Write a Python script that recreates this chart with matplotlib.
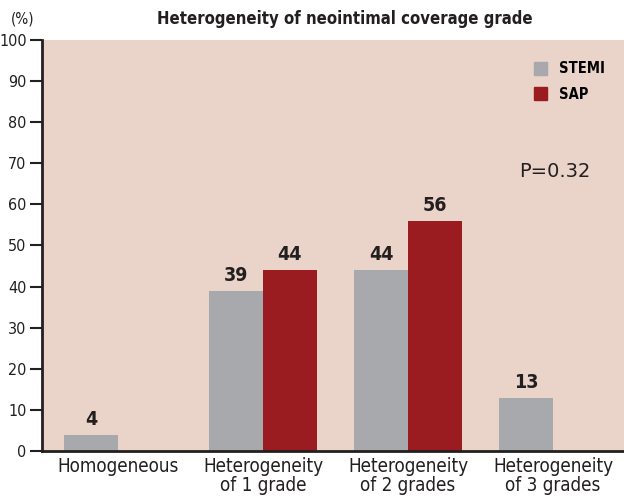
import matplotlib
matplotlib.use("Agg")
import matplotlib.pyplot as plt
import numpy as np

categories = ["Homogeneous", "Heterogeneity\nof 1 grade", "Heterogeneity\nof 2 grades", "Heterogeneity\nof 3 grades"]
stemi = [4, 39, 44, 13]
sap = [None, 44, 56, None]
stemi_labels = ["4", "39", "44", "13"]
sap_labels = [None, "44", "56", None]
yticks = list(range(0, 101, 10))

FONT = dict(family="DejaVu Sans", stretch="condensed")
GREY = "#A7A9AC"
RED = "#9A1B20"
BG = "#EAD3C8"

fig = plt.figure(figsize=(6.24, 4.96), dpi=100)
ax = fig.add_axes([0.0673, 0.0907, 0.9327, 0.8287])
ax.set_facecolor(BG)

x = np.arange(len(categories))
w = 0.372
ax.bar(x - w / 2, stemi, width=w, color=GREY, zorder=2)
sx = [xi for xi, v in zip(x, sap) if v is not None]
sv = [v for v in sap if v is not None]
ax.bar(np.array(sx) + w / 2, sv, width=w, color=RED, zorder=2)

for xi, v, lab in zip(x, stemi, stemi_labels):
    ax.text(xi - w / 2, v + 1.4, lab, ha="center", va="bottom", fontsize=14,
            fontweight="bold", color="#231F20", **FONT)
for xi, v, lab in zip(x, sap, sap_labels):
    if v is not None:
        ax.text(xi + w / 2, v + 1.4, lab, ha="center", va="bottom", fontsize=14,
                fontweight="bold", color="#231F20", **FONT)

ax.set_xlim(-0.524, 3.49)
ax.set_ylim(0, 100)
ax.set_yticks(yticks)
ax.set_yticklabels([str(t) for t in yticks], fontsize=11.5, color="#231F20", **FONT)
ax.set_xticks(x)
ax.set_xticklabels(categories, fontsize=13.5, color="#231F20", linespacing=1.05, **FONT)
ax.tick_params(axis="x", length=0, pad=4)
ax.tick_params(axis="y", length=9, width=1.5, color="#231F20", pad=2)
for s in ["top", "right"]:
    ax.spines[s].set_visible(False)
for s in ["left", "bottom"]:
    ax.spines[s].set_linewidth(2)
    ax.spines[s].set_color("#231F20")

fig.text(0.553, 0.962, "Heterogeneity of neointimal coverage grade", ha="center", va="center",
         fontsize=12, fontweight="bold", color="#231F20", **FONT)
fig.text(0.037, 0.962, "(%)", ha="center", va="center", fontsize=11, color="#231F20", **FONT)

# legend
from matplotlib.patches import Patch
handles = [Patch(color=GREY, label="STEMI"), Patch(color=RED, label="SAP")]
leg = ax.legend(handles=handles, loc="upper right", bbox_to_anchor=(0.99, 0.98), frameon=False,
                handlelength=0.95, handleheight=0.95, handletextpad=0.8, labelspacing=0.7,
                prop=dict(size=10.5, weight="bold", **FONT))

ax.text(3.01, 68, "P=0.32", ha="center", va="center", fontsize=14, color="#231F20",
        family="DejaVu Sans")

fig.savefig("out.png", dpi=100, facecolor="white")
